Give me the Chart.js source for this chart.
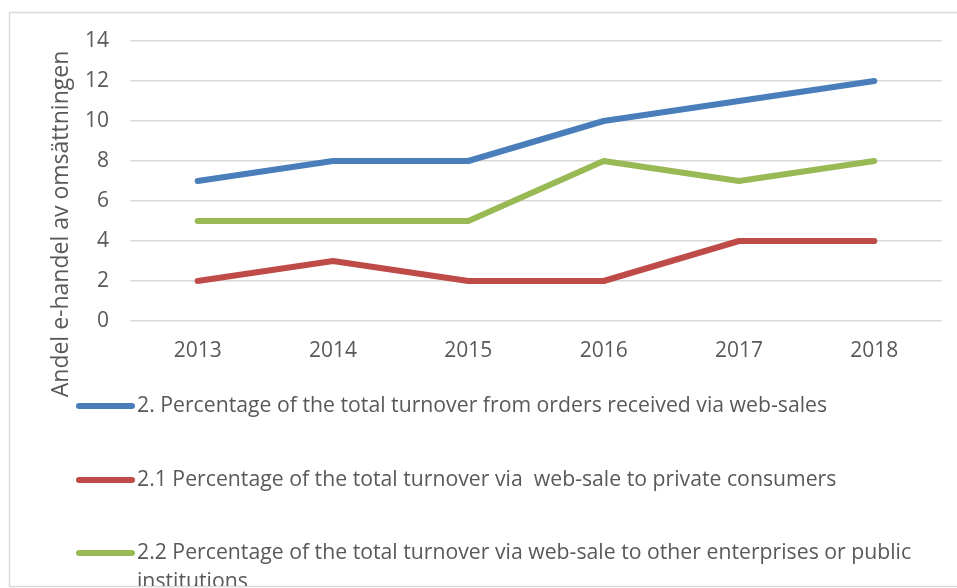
<!DOCTYPE html>
<html>
<head>
<meta charset="utf-8">
<style>
  html, body { margin: 0; padding: 0; background: #ffffff; }
  #wrap { position: relative; width: 957px; height: 588px; }
</style>
<script src="https://cdn.jsdelivr.net/npm/chart.js@4/dist/chart.umd.min.js"></script>
</head>
<body>
<div id="wrap"><canvas id="chart" width="957" height="588"></canvas></div>
<script>
// Years on the category axis
const years = ['2013', '2014', '2015', '2016', '2017', '2018'];

// Share of turnover (%) per series
const totalWebSales = [7, 8, 8, 10, 11, 12];
const privateConsumers = [2, 3, 2, 2, 4, 4];
const enterprisesPublic = [5, 5, 5, 8, 7, 8];

// Series names
const seriesNames = [
  '2. Percentage of the total turnover from orders received via web-sales',
  '2.1 Percentage of the total turnover via  web-sale to private consumers',
  '2.2 Percentage of the total turnover via web-sale to other enterprises or public institutions'
];

// Value axis
const yTitle = 'Andel e-handel av omsättningen';
const yMin = 0, yMax = 14, yStep = 2;

const colors = ['#4a7ebb', '#be4b48', '#98b954'];
const textColor = '#595959';
const gridColor = '#d9d9d9';
const fontFamily = '"Open Sans", sans-serif';

// Frame around the whole chart (open on the right side)
const framePlugin = {
  id: 'frame',
  beforeDraw(chart) {
    const ctx = chart.ctx;
    ctx.save();
    ctx.strokeStyle = gridColor;
    ctx.lineWidth = 1.5;
    ctx.beginPath();
    ctx.moveTo(957, 12.5);
    ctx.lineTo(9.5, 12.5);
    ctx.lineTo(9.5, 586.5);
    ctx.lineTo(957, 586.5);
    ctx.stroke();
    ctx.restore();
  }
};

// Rotated value-axis title
const yTitlePlugin = {
  id: 'yTitle',
  afterDraw(chart) {
    const ctx = chart.ctx;
    ctx.save();
    ctx.translate(61, 224);
    ctx.rotate(-Math.PI / 2);
    ctx.font = '23px ' + fontFamily;
    ctx.fillStyle = textColor;
    ctx.textAlign = 'center';
    ctx.textBaseline = 'middle';
    ctx.fillText(yTitle, 0, 0);
    ctx.restore();
  }
};

// Legend: one series per row, line swatch followed by wrapped text
const legendPlugin = {
  id: 'stackedLegend',
  afterDraw(chart) {
    const ctx = chart.ctx;
    const rowsY = [406, 480, 553];
    const lineGap = 29;
    const swatchX0 = 79, swatchX1 = 132, textX = 137;
    const maxTextW = 790;
    const squeeze = 0.965;
    ctx.save();
    ctx.beginPath();
    ctx.rect(10, 13, 947, 573);
    ctx.clip();
    ctx.font = '22px ' + fontFamily;
    ctx.textBaseline = 'middle';
    chart.data.datasets.forEach((ds, i) => {
      const y = rowsY[i];
      ctx.strokeStyle = ds.borderColor;
      ctx.lineWidth = 6;
      ctx.lineCap = 'round';
      ctx.beginPath();
      ctx.moveTo(swatchX0, y);
      ctx.lineTo(swatchX1, y);
      ctx.stroke();
      // wrap words to the available width
      const words = ds.label.split(' ');
      const lines = [];
      let cur = '';
      words.forEach(w => {
        const test = cur === '' ? w : cur + ' ' + w;
        if (cur !== '' && ctx.measureText(test).width * squeeze > maxTextW) {
          lines.push(cur);
          cur = w;
        } else {
          cur = test;
        }
      });
      if (cur !== '') lines.push(cur);
      ctx.fillStyle = textColor;
      lines.forEach((ln, k) => {
        ctx.save();
        ctx.translate(textX, y + k * lineGap);
        ctx.scale(squeeze, 1);
        ctx.fillText(ln, 0, 0);
        ctx.restore();
      });
    });
    ctx.restore();
  }
};

const makeSet = (label, data, color) => ({
  label,
  data,
  borderColor: color,
  backgroundColor: color,
  borderWidth: 6,
  borderCapStyle: 'round',
  borderJoinStyle: 'round',
  pointRadius: 0,
  pointHoverRadius: 0,
  tension: 0,
  fill: false
});

new Chart(document.getElementById('chart'), {
  type: 'line',
  data: {
    labels: years,
    datasets: [
      makeSet(seriesNames[0], totalWebSales, colors[0]),
      makeSet(seriesNames[1], privateConsumers, colors[1]),
      makeSet(seriesNames[2], enterprisesPublic, colors[2])
    ]
  },
  options: {
    responsive: false,
    animation: false,
    devicePixelRatio: 1,
    layout: { padding: { left: 0, top: 41, right: 15, bottom: 0 } },
    plugins: {
      legend: { display: false },
      tooltip: { enabled: false },
      title: { display: false }
    },
    scales: {
      x: {
        type: 'category',
        offset: true,
        grid: { display: false, drawTicks: false },
        border: { display: false },
        ticks: {
          color: textColor,
          font: { family: fontFamily, size: 21 },
          padding: 17,
          maxRotation: 0
        },
        afterFit(scale) { scale.height = 588 - 321; }
      },
      y: {
        min: yMin,
        max: yMax,
        grid: { color: gridColor, lineWidth: 1.5, drawTicks: false },
        border: { display: false },
        ticks: {
          stepSize: yStep,
          color: textColor,
          font: { family: fontFamily, size: 21 },
          padding: 21
        },
        afterFit(scale) { scale.width = 130; }
      }
    }
  },
  plugins: [framePlugin, yTitlePlugin, legendPlugin]
});
</script>
</body>
</html>
